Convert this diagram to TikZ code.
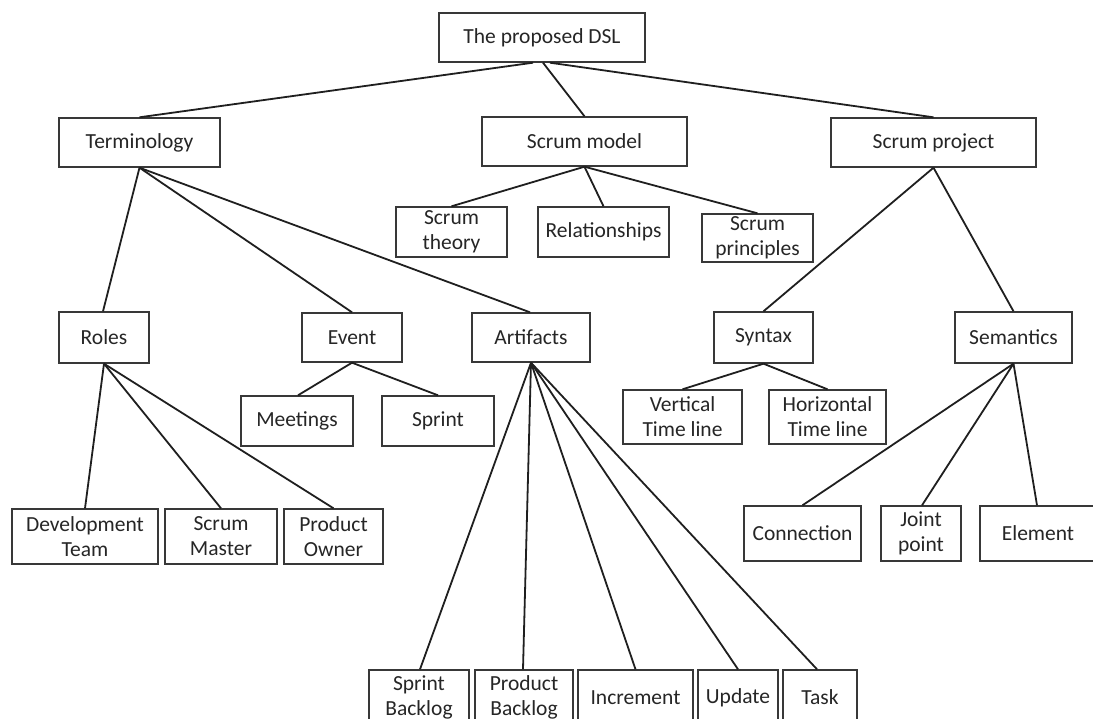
\documentclass[tikz,border=0pt]{standalone}
\usepackage{fontspec}
\setmainfont{Carlito}
\begin{document}
\begin{tikzpicture}[x=1pt,y=-1pt,
  box/.style={draw=black!78, line width=1.4pt, rectangle, inner sep=0pt,
    align=center, text=black!85,
    font=\fontsize{21.5}{25}\selectfont},
  link/.style={draw=black!88, line width=1.8pt}]
\clip (0,0) rectangle (1093,718);
\fill[white] (0,0) rectangle (1093,718);

% level 0 and 1
\node[box, minimum width=206, minimum height=49] (dsl) at (542,37.5) {The proposed DSL};
\node[box, minimum width=161, minimum height=49] (term) at (139.5,142.5) {Terminology};
\node[box, minimum width=205, minimum height=49] (smodel) at (584.5,141.5) {Scrum model};
\node[box, minimum width=205, minimum height=49] (sproj) at (933.5,142.5) {Scrum project};

% scrum model children
\node[box, minimum width=111, minimum height=50] (stheory) at (451.5,232) {Scrum\\theory};
\node[box, minimum width=131, minimum height=50] (rel) at (603.5,232) {Relationships};
\node[box, minimum width=111, minimum height=48] (sprin) at (757.5,238) {Scrum\\principles};

% level 2
\node[box, minimum width=90, minimum height=51] (roles) at (104,337.5) {Roles};
\node[box, minimum width=100, minimum height=49] (event) at (352,337.5) {Event};
\node[box, minimum width=118, minimum height=49] (artif) at (531,337.5) {Artifacts};
\node[box, minimum width=99, minimum height=51] (syntax) at (763.5,337.5) {Syntax};
\node[box, minimum width=117, minimum height=51] (seman) at (1013.5,337.5) {Semantics};

% event and syntax children
\node[box, minimum width=112, minimum height=50] (meet) at (297,421) {Meetings};
\node[box, minimum width=112, minimum height=50] (sprint) at (438,421) {Sprint};
\node[box, minimum width=119, minimum height=54] (vert) at (682.5,417) {Vertical\\Time line};
\node[box, minimum width=117, minimum height=54] (horiz) at (827.5,417) {Horizontal\\Time line};

% roles and semantics children
\node[box, minimum width=146, minimum height=55] (devteam) at (85,536.5) {Development\\Team};
\node[box, minimum width=112, minimum height=55] (smaster) at (221,536.5) {Scrum\\Master};
\node[box, minimum width=99, minimum height=55] (powner) at (333.5,536.5) {Product\\Owner};
\node[box, minimum width=117, minimum height=55] (conn) at (802.5,533.5) {Connection};
\node[box, minimum width=80, minimum height=55] (joint) at (921,533.5) {Joint\\point};
\node[box, minimum width=116, minimum height=55] (elem) at (1038,533.5) {Element};

% artifacts children
\node[box, minimum width=100, minimum height=55] (sbl) at (419,697.5) {Sprint\\Backlog};
\node[box, minimum width=98, minimum height=55] (pbl) at (524,697.5) {Product\\Backlog};
\node[box, minimum width=115, minimum height=55] (incr) at (635.5,697.5) {Increment};
\node[box, minimum width=80, minimum height=55] (upd) at (738,697.5) {Update};
\node[box, minimum width=74, minimum height=55] (task) at (820,697.5) {Task};

% connectors
\draw[link] ([xshift=-9pt]dsl.south) -- (term.north);
\draw[link] ([xshift=1pt]dsl.south) -- (smodel.north);
\draw[link] ([xshift=8pt]dsl.south) -- (sproj.north);

\draw[link] (smodel.south) -- (stheory.north);
\draw[link] (smodel.south) -- (rel.north);
\draw[link] (smodel.south) -- (sprin.north);

\draw[link] (term.south) -- ([xshift=-1pt]roles.north);
\draw[link] (term.south) -- (event.north);
\draw[link] (term.south) -- ([xshift=-1pt]artif.north);

\draw[link] (sproj.south) -- (syntax.north);
\draw[link] (sproj.south) -- (seman.north);

\draw[link] (roles.south) -- (devteam.north);
\draw[link] (roles.south) -- (smaster.north);
\draw[link] (roles.south) -- (powner.north);

\draw[link] (event.south) -- ([xshift=1pt]meet.north);
\draw[link] (event.south) -- (sprint.north);

\draw[link] (syntax.south) -- (vert.north);
\draw[link] (syntax.south) -- (horiz.north);

\draw[link] (seman.south) -- (conn.north);
\draw[link] (seman.south) -- ([xshift=1pt]joint.north);
\draw[link] (seman.south) -- ([xshift=-1pt]elem.north);

\draw[link] (artif.south) -- ([xshift=1pt]sbl.north);
\draw[link] (artif.south) -- ([xshift=-1pt]pbl.north);
\draw[link] (artif.south) -- (incr.north);
\draw[link] (artif.south) -- (upd.north);
\draw[link] (artif.south) -- ([xshift=-3pt]task.north);
\end{tikzpicture}
\end{document}
